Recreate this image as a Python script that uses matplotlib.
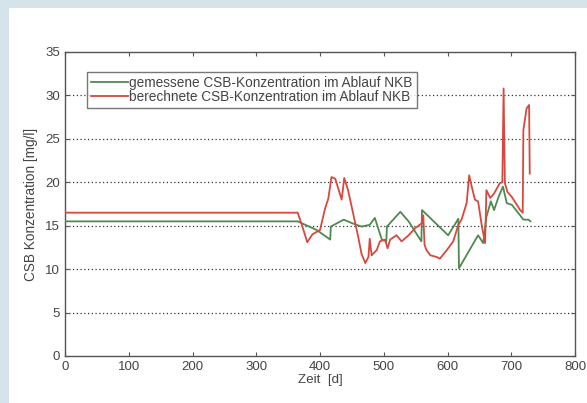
import matplotlib
matplotlib.use("Agg")
import matplotlib.pyplot as plt
from matplotlib.patches import Rectangle

# measured COD (green)
gem_t = [0, 365, 395, 416, 417, 437, 450, 465, 478, 486, 497, 504, 505, 526, 539,
         559, 560, 601, 617, 618, 648, 656, 661, 668, 673, 680, 687, 693, 701, 716,
         719, 727, 730]
gem_c = [15.5, 15.5, 14.5, 13.4, 14.9, 15.7, 15.3, 14.9, 15.1, 15.9, 13.4, 13.2, 14.9,
         16.6, 15.5, 13.2, 16.8, 13.9, 15.8, 10.1, 13.9, 13.0, 16.0, 17.8, 16.8, 18.3,
         19.5, 17.6, 17.4, 16.0, 15.7, 15.7, 15.5]

# computed COD (red)
ber_t = [0, 365, 372, 380, 388, 395, 400, 408, 413, 418, 424, 434, 438, 444, 452, 460,
         465, 471, 476, 478, 481, 489, 494, 502, 506, 510, 520, 528, 539, 549, 560, 562,
         564, 567, 573, 583, 588, 599, 609, 617, 622, 630, 634, 638, 643, 648, 654, 659,
         661, 667, 673, 682, 686, 688, 690, 694, 701, 714, 718, 719, 724, 728, 729]
ber_c = [16.5, 16.5, 15.0, 13.1, 14.0, 14.3, 14.5, 17.0, 18.1, 20.6, 20.4, 18.0, 20.5,
         19.1, 16.4, 13.7, 11.8, 10.7, 11.4, 13.5, 11.6, 12.2, 13.2, 13.4, 12.4, 13.4,
         13.9, 13.2, 13.9, 14.7, 15.3, 16.2, 12.8, 12.2, 11.6, 11.4, 11.2, 12.2, 13.2,
         15.1, 15.7, 17.6, 20.8, 19.5, 18.0, 17.8, 14.9, 13.0, 19.1, 18.2, 18.7, 19.9,
         20.0, 30.8, 19.9, 18.9, 18.3, 16.8, 16.5, 26.0, 28.5, 28.9, 21.0]

x_ticks = [0, 100, 200, 300, 400, 500, 600, 700, 800]
y_ticks = [0, 5, 10, 15, 20, 25, 30, 35]

plt.rcParams["font.family"] = ["Liberation Sans", "DejaVu Sans"]
text_col = "#444444"
spine_col = "#555555"

fig = plt.figure(figsize=(5.87, 4.03), dpi=100)
fig.patch.set_facecolor("#d5e3eb")
# white panel behind everything
fig.patches.append(Rectangle((9 / 587, 0), 1, (403 - 8) / 403,
                             transform=fig.transFigure, facecolor="white",
                             edgecolor="none", zorder=-10))

ax = fig.add_axes([65 / 587, 47 / 403, 510 / 587, 304 / 403])
ax.set_facecolor("white")

ax.plot(gem_t, gem_c, color="#4e8a4e", linewidth=1.3,
        label="gemessene CSB-Konzentration im Ablauf NKB", zorder=3)
ax.plot(ber_t, ber_c, color="#d8483e", linewidth=1.3,
        label="berechnete CSB-Konzentration im Ablauf NKB", zorder=3)

ax.set_xlim(0, 800)
ax.set_ylim(0, 35)
ax.set_xticks(x_ticks)
ax.set_yticks(y_ticks)

# horizontal dotted grid only
for yv in y_ticks[1:-1]:
    ax.axhline(yv, color="#333333", linestyle=(0, (1, 2)), linewidth=0.9, zorder=1)

ax.tick_params(direction="in", top=True, right=True, length=3, width=0.8,
               colors=spine_col, labelcolor=text_col, labelsize=9.5)
for s in ax.spines.values():
    s.set_color(spine_col)
    s.set_linewidth(1.0)

ax.set_xlabel("Zeit  [d]", fontsize=9.6, color=text_col, labelpad=1)
ax.set_ylabel("CSB Konzentration [mg/l]", fontsize=9.8, color=text_col, labelpad=5)

leg = ax.legend(loc="upper left", bbox_to_anchor=(0.043, 0.934), fontsize=9.8,
                frameon=True, fancybox=False, borderpad=0.3, labelspacing=0.0,
                handlelength=2.7, handletextpad=0.1, borderaxespad=0)
leg.get_frame().set_edgecolor(spine_col)
leg.get_frame().set_linewidth(1.0)
for t in leg.get_texts():
    t.set_color(text_col)

fig.savefig("out.png", dpi=100, facecolor=fig.get_facecolor())
